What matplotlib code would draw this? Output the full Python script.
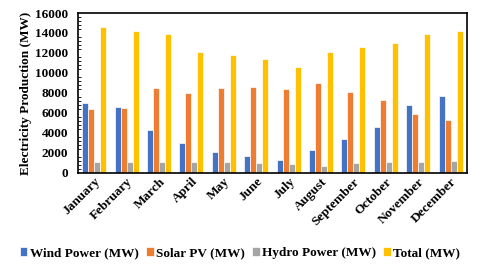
import numpy as np
import matplotlib.pyplot as plt
from matplotlib.ticker import MultipleLocator

months = ['January', 'February', 'March', 'April', 'May', 'June', 'July',
          'August', 'September', 'October', 'November', 'December']
wind = [7000, 6600, 4300, 2970, 2070, 1700, 1300, 2270, 3370, 4600, 6800, 7670]
solar = [6400, 6500, 8470, 7970, 8530, 8570, 8370, 9000, 8130, 7300, 5900, 5270]
hydro = [1130, 1070, 1130, 1130, 1130, 1000, 870, 730, 970, 1100, 1100, 1200]
total = [14630, 14200, 13930, 12070, 11800, 11400, 10600, 12100, 12570, 13030, 13870, 14170]

series = [('Wind Power (MW)', wind, '#4472C4'),
          ('Solar PV (MW)', solar, '#ED7D31'),
          ('Hydro Power (MW)', hydro, '#A5A5A5'),
          ('Total (MW)', total, '#FFC000')]

plt.rcParams['font.family'] = ['Liberation Serif', 'DejaVu Serif']
plt.rcParams['font.weight'] = 'bold'
fs = 9.5

fig = plt.figure(figsize=(4.8, 2.71), dpi=100)
ax = fig.add_axes([0.1625, 0.362, 0.81, 0.59])

x = np.arange(len(months))
w = 0.185
for i, (name, vals, col) in enumerate(series):
    ax.bar(x + (i - 1.5) * w, vals, w, color=col, edgecolor='white',
           linewidth=0.5, label=name)

ax.set_xlim(-0.5, len(months) - 0.5)
ax.set_ylim(0, 16000)
ax.yaxis.set_major_locator(MultipleLocator(2000))
ax.yaxis.set_minor_locator(MultipleLocator(400))
ax.tick_params(axis='y', which='major', direction='out', length=0, labelsize=fs, pad=7)
ax.tick_params(axis='y', which='minor', direction='in', length=2, width=0.6)
ax.tick_params(axis='x', length=0, labelsize=fs, pad=2)
ax.set_xticks(x)
ax.set_xticklabels(months, rotation=45, ha='right', rotation_mode='anchor')
for lab in ax.get_xticklabels() + ax.get_yticklabels():
    lab.set_fontweight('bold')
ax.set_ylabel('Electricity Production (MW)', fontsize=fs, fontweight='bold', labelpad=2)
for s in ax.spines.values():
    s.set_linewidth(1.2)

fig.legend(loc='lower center', bbox_to_anchor=(0.5, 0.0), ncol=4, frameon=False,
           handlelength=0.6, handleheight=0.6, handletextpad=0.2,
           columnspacing=0.5, prop={'weight': 'bold', 'size': fs})

fig.savefig('out.png', dpi=100)
